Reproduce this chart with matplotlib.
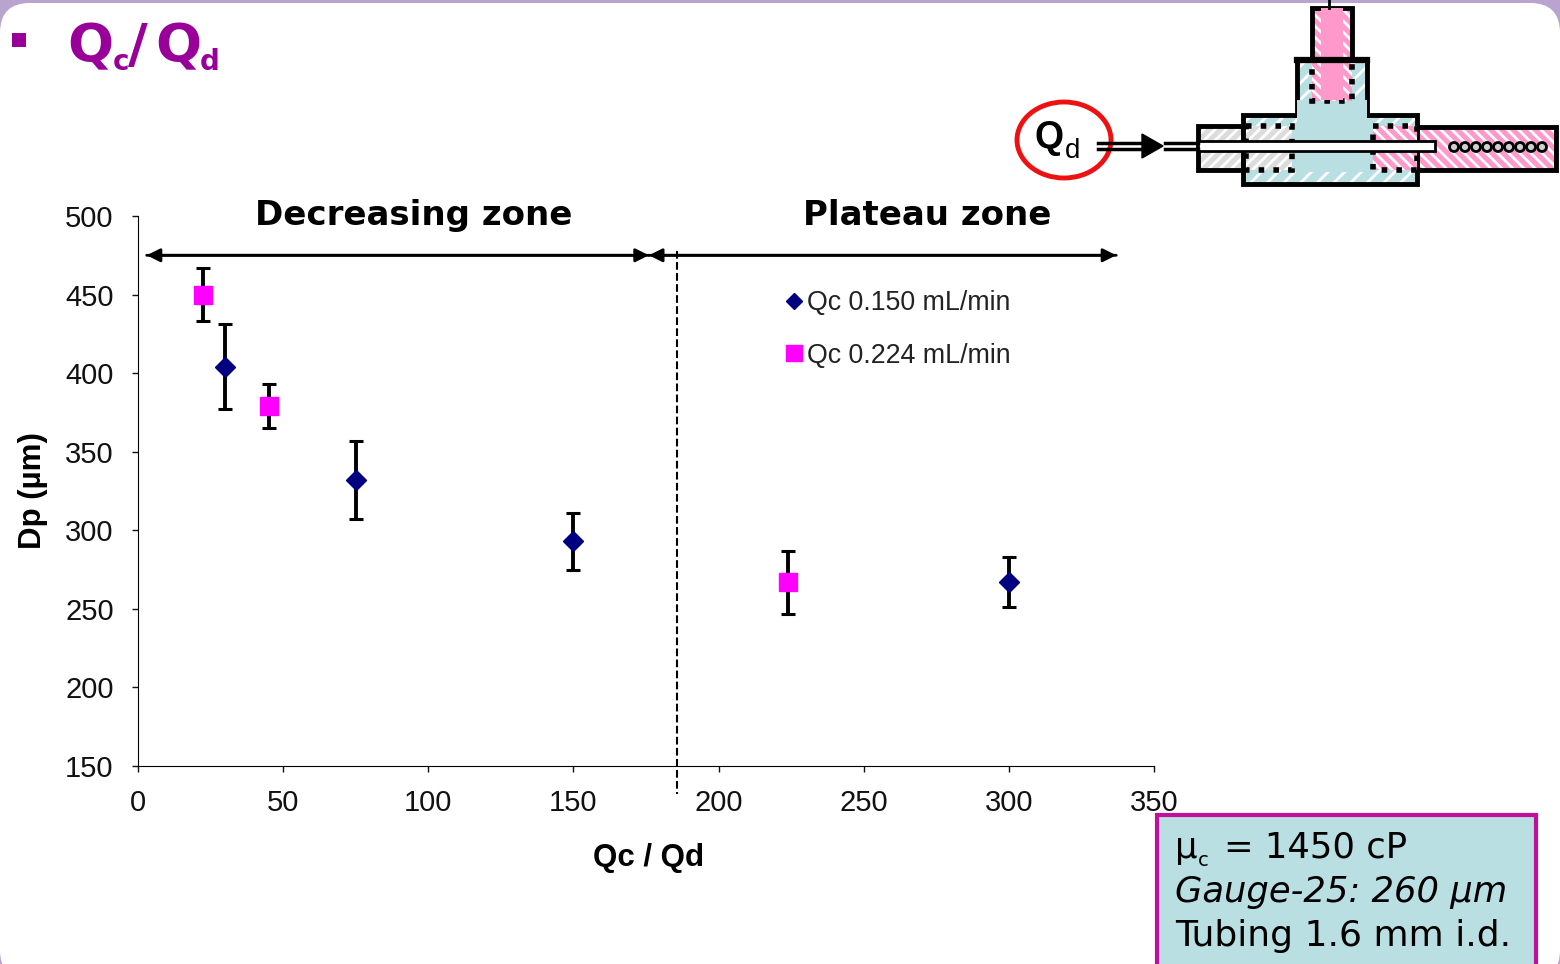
import matplotlib
matplotlib.use('Agg')
import matplotlib.pyplot as plt
from matplotlib.patches import FancyBboxPatch, Rectangle, Ellipse, Circle

plt.rcParams['font.family'] = ['Liberation Sans', 'DejaVu Sans']
plt.rcParams['hatch.linewidth'] = 2

# Qc 0.150 mL/min
x_150 = [30, 75, 150, 300]
y_150 = [404, 332, 293, 267]
err_150 = [27, 25, 18, 16]
# Qc 0.224 mL/min
x_224 = [22.4, 45, 224]
y_224 = [450, 379, 267]
err_224 = [17, 14, 20]

xticks = [0, 50, 100, 150, 200, 250, 300, 350]
yticks = [150, 200, 250, 300, 350, 400, 450, 500]

W, H = 1560, 964
COMIC = 'DejaVu Sans'
PURPLE = '#990099'
TEAL = '#b9dfe3'
PINK = '#ff99cc'
GREY = '#dcdcdc'

fig = plt.figure(figsize=(W / 100, H / 100), dpi=100, facecolor='#b8a4cf')

# background + decoration, in pixel coordinates
bg = fig.add_axes([0, 0, 1, 1])
bg.set_xlim(0, W)
bg.set_ylim(H, 0)
bg.axis('off')
bg.add_patch(FancyBboxPatch((0, 3), W, H + 13, boxstyle='round,pad=0,rounding_size=30',
                            fc='white', ec='none'))

# title
bg.add_patch(Rectangle((12, 33), 14, 14, fc=PURPLE, ec='none'))
bg.text(67, 62, 'Q', color=PURPLE, fontsize=39, fontweight='bold', family=COMIC)
bg.text(113, 70, 'c', color=PURPLE, fontsize=20, fontweight='bold', family=COMIC)
bg.text(128, 62, '/', color=PURPLE, fontsize=39, fontweight='bold', family=COMIC)
bg.text(155, 62, 'Q', color=PURPLE, fontsize=39, fontweight='bold', family=COMIC)
bg.text(200, 70, 'd', color=PURPLE, fontsize=20, fontweight='bold', family=COMIC)


def block(x0, y0, x1, y1, fc, ec='black', lw=3.5, ls='-', hatch=None, z=2):
    bg.add_patch(Rectangle((x0, y0), x1 - x0, y1 - y0, fc=fc, ec='none', lw=0, zorder=z))
    if hatch:
        bg.add_patch(Rectangle((x0, y0), x1 - x0, y1 - y0, fc='none', ec='white', lw=0,
                               hatch=hatch, zorder=z))
    if lw:
        bg.add_patch(Rectangle((x0, y0), x1 - x0, y1 - y0, fc='none', ec=ec, lw=lw, ls=ls, zorder=z))


# T junction schematic
block(1198, 126, 1243, 170, GREY, hatch='///')
block(1417, 127, 1556, 170, PINK, hatch='\\\\\\')
block(1243, 115, 1417, 184, TEAL, hatch='//')
block(1297, 60, 1367, 118, TEAL, lw=0, hatch='//', z=2)
bg.plot([1297, 1297], [60, 115], color='black', lw=3.5, zorder=3)
bg.plot([1367, 1367], [60, 115], color='black', lw=3.5, zorder=3)
block(1297, 100, 1367, 172, TEAL, lw=0, z=3)
block(1290, 125, 1375, 172, TEAL, lw=0, z=3)
block(1312, 8, 1352, 60, PINK, hatch='\\\\\\', z=4)
block(1321, 8, 1343, 100, PINK, lw=0, z=5)
block(1312, 60, 1352, 101, PINK, lw=4, ls=':', hatch='\\\\\\', z=4)
block(1321, 60, 1343, 98, PINK, lw=0, z=5)
bg.plot([1297, 1367], [60, 60], color='black', lw=4.5, zorder=6)
bg.plot([1329, 1329], [0, 8], color='black', lw=2, zorder=6)
block(1246, 126, 1292, 170, GREY, lw=4, ls=':', hatch='///', z=4)
block(1373, 126, 1417, 170, PINK, lw=4, ls=':', hatch='\\\\\\', z=4)
block(1198, 141, 1435, 151, 'white', lw=2, z=6)
bg.plot([1165, 1198], [143, 143], color='black', lw=2.5, zorder=6)
bg.plot([1165, 1198], [149, 149], color='black', lw=2.5, zorder=6)
for cx in range(1454, 1552, 11):
    bg.add_patch(Circle((cx, 147), 4.5, fc='#cfcfcf', ec='black', lw=2, zorder=6))
bg.add_patch(Ellipse((1064, 140), 94, 76, fc='none', ec='#ee1111', lw=3.5, zorder=3))
bg.text(1035, 148, 'Q', fontsize=27, fontweight='bold', zorder=4)
bg.text(1065, 158, 'd', fontsize=20, zorder=4)
bg.plot([1098, 1145], [143, 143], color='black', lw=2.5, zorder=4)
bg.plot([1098, 1145], [149, 149], color='black', lw=2.5, zorder=4)
bg.fill([1142, 1163, 1142], [134, 146, 158], color='black', zorder=4)

# info box
bg.add_patch(Rectangle((1157, 815), 379, 160, fc=TEAL, ec='#c0109a', lw=3, zorder=2))
bg.text(1175, 858, 'µ', fontsize=25.5, family=COMIC, zorder=3)
bg.text(1198, 866, 'c', fontsize=14, family=COMIC, zorder=3)
bg.text(1224, 858, '= 1450 cP', fontsize=25.5, family=COMIC, zorder=3)
bg.text(1175, 902, 'Gauge-25: 260 µm', fontsize=25.5, family=COMIC, style='italic', zorder=3)
bg.text(1175, 946, 'Tubing 1.6 mm i.d.', fontsize=26, family=COMIC, zorder=3)

# chart
ax = fig.add_axes([138 / W, 1 - 766 / H, (1154 - 138) / W, (766 - 216) / H])
ax.patch.set_alpha(0)
ax.errorbar(x_150, y_150, yerr=err_150, fmt='none', ecolor='black', elinewidth=2.8,
            capsize=5, capthick=2.2, zorder=2)
ax.errorbar(x_224, y_224, yerr=err_224, fmt='none', ecolor='black', elinewidth=2.8,
            capsize=5, capthick=2.2, zorder=2)
ax.plot(x_150, y_150, 'D', color='#000080', ms=10, ls='none', zorder=3, label='Qc 0.150 mL/min')
ax.plot(x_224, y_224, 's', color='#ff00ff', ms=13, ls='none', zorder=3, label='Qc 0.224 mL/min')
ax.set_xlim(0, 350)
ax.set_ylim(150, 500)
ax.set_xticks(xticks)
ax.set_yticks(yticks)
ax.tick_params(labelsize=21, length=4.5, width=1, colors='#111111')
ax.tick_params(axis='x', pad=12)
ax.tick_params(axis='y', pad=13)
for s in ['top', 'right']:
    ax.spines[s].set_visible(False)
ax.set_xlabel('Qc / Qd', fontsize=22.5, fontweight='bold', labelpad=19, x=0.503)
ax.set_ylabel('Dp (µm)', fontsize=22.5, fontweight='bold', labelpad=12, y=0.5)
ax.legend(loc='upper left', bbox_to_anchor=(0.619, 0.89), frameon=False, fontsize=19.3,
          labelspacing=1.0, handlelength=1, handletextpad=0, borderpad=0,
          markerscale=0.85, labelcolor='#222222')

# zones
arrow = dict(arrowstyle='-|>', color='black', lw=2, mutation_scale=20, shrinkA=0, shrinkB=0)
ax.annotate('', xy=(3, 475), xytext=(176, 475), arrowprops=arrow)
ax.annotate('', xy=(176, 475), xytext=(3, 475), arrowprops=arrow)
ax.annotate('', xy=(337, 475), xytext=(176, 475), arrowprops=arrow)
ax.annotate('', xy=(176, 475), xytext=(337, 475), arrowprops=arrow)
ax.plot([185.8, 185.8], [478, 132], color='black', lw=1.5, ls='--', clip_on=False, zorder=1)
ax.text(95, 490, 'Decreasing zone', fontsize=24.5, fontweight='bold', family=COMIC, ha='center', va='bottom')
ax.text(272, 490, 'Plateau zone', fontsize=24.5, fontweight='bold', family=COMIC, ha='center', va='bottom')

fig.savefig('out.png', dpi=100, facecolor=fig.get_facecolor())
